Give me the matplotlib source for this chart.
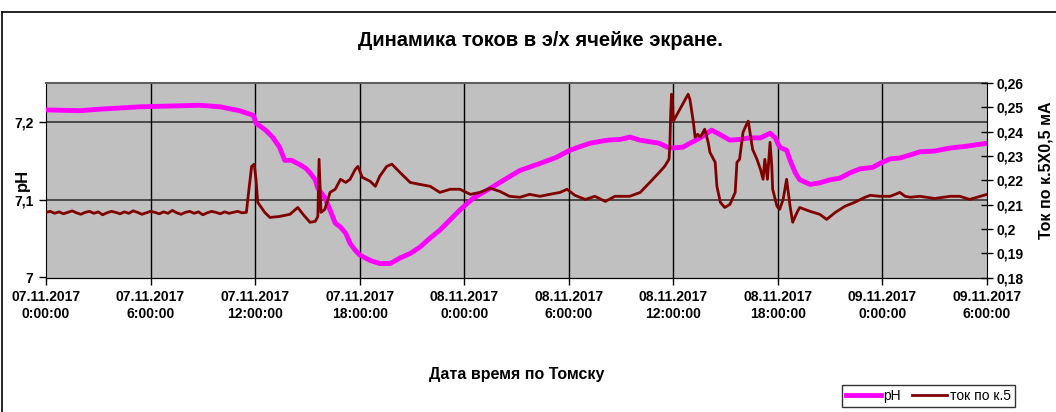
import matplotlib.pyplot as plt
from matplotlib.lines import Line2D
from matplotlib.ticker import FixedLocator, FuncFormatter, MultipleLocator

plt.rcParams['font.family'] = ['Liberation Sans', 'DejaVu Sans']

# ── DATA (time = hours since 07.11.2017 0:00, Tomsk) ─────────────
ph_hours = [0, 1.95, 3.1, 5.4, 7.1, 8.8, 10.0, 11.1, 11.9, 12.05, 12.6, 13.0,
            13.4, 13.7, 14.1, 14.6, 14.9, 15.15, 15.45, 15.6, 16.0, 16.3, 16.6,
            16.9, 17.2, 17.45, 17.75, 18.0, 18.6, 19.15, 19.75, 20.3, 20.9,
            21.45, 22.05, 22.6, 23.75, 24.5, 25.5, 26.45, 27.2, 28.35, 29.3,
            30.05, 31.2, 32.2, 32.95, 33.5, 34.1, 34.65, 35.2, 35.65, 36.0,
            36.55, 36.95, 37.55, 38.2, 38.7, 39.25, 39.8, 40.4, 41.0, 41.55,
            41.85, 42.1, 42.5, 42.7, 43.0, 43.25, 43.85, 44.4, 45.0, 45.55,
            46.15, 46.7, 47.45, 47.85, 48.45, 49.0, 49.6, 50.15, 51.0, 51.9,
            52.75, 54.0]
ph_values = [7.216, 7.215, 7.217, 7.220, 7.221, 7.222, 7.220, 7.215, 7.209,
             7.199, 7.190, 7.181, 7.168, 7.151, 7.151, 7.145, 7.141, 7.135,
             7.126, 7.115, 7.103, 7.087, 7.070, 7.065, 7.057, 7.044, 7.035,
             7.029, 7.022, 7.018, 7.018, 7.025, 7.031, 7.039, 7.051, 7.061,
             7.087, 7.102, 7.115, 7.128, 7.138, 7.147, 7.155, 7.164, 7.173,
             7.177, 7.178, 7.181, 7.177, 7.175, 7.173, 7.168, 7.167, 7.168,
             7.173, 7.180, 7.190, 7.184, 7.177, 7.178, 7.180, 7.180, 7.186,
             7.180, 7.168, 7.164, 7.151, 7.135, 7.126, 7.120, 7.122, 7.126,
             7.128, 7.135, 7.140, 7.142, 7.147, 7.153, 7.154, 7.158, 7.162,
             7.163, 7.167, 7.169, 7.173]

cur_hours = [0, 0.25, 0.5, 0.75, 1.0, 1.25, 1.5, 1.75, 2.0, 2.25, 2.5, 2.75,
             3.0, 3.25, 3.5, 3.75, 4.0, 4.25, 4.5, 4.75, 5.0, 5.25, 5.5, 5.75,
             6.0, 6.25, 6.5, 6.75, 7.0, 7.25, 7.5, 7.75, 8.0, 8.25, 8.5, 8.75,
             9.0, 9.25, 9.5, 9.75, 10.0, 10.25, 10.5, 10.75, 11.0, 11.25, 11.5,
             11.6, 11.8, 11.95, 12.05, 12.15, 12.55, 12.85, 13.4, 14.0, 14.45,
             14.75, 15.15, 15.45, 15.6, 15.67, 15.78, 16.0, 16.3, 16.6, 16.9,
             17.2, 17.45, 17.75, 17.9, 18.15, 18.6, 18.9, 19.15, 19.55, 19.85,
             20.3, 20.9, 21.45, 22.05, 22.6, 23.2, 23.75, 24.35, 24.9, 25.5,
             26.05, 26.6, 27.2, 27.75, 28.35, 28.9, 29.5, 29.9, 30.35, 30.95,
             31.5, 32.1, 32.65, 33.5, 34.1, 34.65, 35.2, 35.5, 35.75, 35.8,
             35.85, 35.9, 35.95, 36.0, 36.85, 36.95, 37.15, 37.25, 37.4, 37.55,
             37.8, 38.0, 38.1, 38.4, 38.5, 38.7, 38.95, 39.25, 39.55, 39.65,
             39.8, 40.0, 40.15, 40.3, 40.4, 40.55, 40.8, 41.0, 41.15, 41.25,
             41.4, 41.55, 41.65, 41.7, 41.95, 42.1, 42.3, 42.5, 42.7, 42.85,
             43.1, 43.25, 43.55, 43.85, 44.4, 44.8, 45.3, 45.85, 46.4, 47.0,
             47.3, 47.85, 48.45, 49.0, 49.3, 49.6, 50.15, 51.0, 51.9, 52.45,
             53.0, 54.0]
cur_values = [0.2068, 0.2072, 0.2064, 0.2070, 0.2062, 0.2068, 0.2074, 0.2066,
              0.2060, 0.2068, 0.2072, 0.2064, 0.2070, 0.2058, 0.2066, 0.2072,
              0.2068, 0.2062, 0.2070, 0.2064, 0.2074, 0.2068, 0.2060, 0.2066,
              0.2072, 0.2068, 0.2062, 0.2070, 0.2064, 0.2076, 0.2066, 0.2060,
              0.2068, 0.2072, 0.2064, 0.2070, 0.2058, 0.2066, 0.2072, 0.2068,
              0.2062, 0.2070, 0.2064, 0.2068, 0.2072, 0.2066, 0.2068,
              0.2134, 0.2257, 0.2266, 0.2204, 0.2109, 0.2068, 0.2047, 0.2051,
              0.2060, 0.2088, 0.2060, 0.2027, 0.2031, 0.2051, 0.2286, 0.2068,
              0.2080, 0.2150, 0.2163, 0.2204, 0.2191, 0.2204, 0.2245, 0.2257,
              0.2212, 0.2196, 0.2175, 0.2216, 0.2257, 0.2266, 0.2233, 0.2191,
              0.2183, 0.2175, 0.2150, 0.2163, 0.2163, 0.2142, 0.2150, 0.2167,
              0.2154, 0.2134, 0.2130, 0.2142, 0.2134, 0.2142, 0.2150, 0.2163,
              0.2138, 0.2121, 0.2134, 0.2113, 0.2134, 0.2134, 0.2150, 0.2191,
              0.2233, 0.2257, 0.2286, 0.2340, 0.2480, 0.2554, 0.2533, 0.2443,
              0.2554, 0.2533, 0.2439, 0.2377, 0.2389, 0.2377, 0.2410, 0.2356,
              0.2315, 0.2274, 0.2175, 0.2109, 0.2088, 0.2101, 0.2150, 0.2274,
              0.2286, 0.2397, 0.2422, 0.2443, 0.2397, 0.2327, 0.2286, 0.2245,
              0.2204, 0.2286, 0.2204, 0.2356, 0.2257, 0.2163, 0.2093, 0.2080,
              0.2121, 0.2204, 0.2093, 0.2027, 0.2068, 0.2088, 0.2080, 0.2072,
              0.2060, 0.2039, 0.2068, 0.2093, 0.2109, 0.2130, 0.2138, 0.2134,
              0.2134, 0.2150, 0.2134, 0.2130, 0.2134, 0.2125, 0.2134, 0.2134,
              0.2121, 0.2142]

tick_hours = [0, 6, 12, 18, 24, 30, 36, 42, 48, 54]
tick_labels = ['07.11.2017\n0:00:00', '07.11.2017\n6:00:00',
               '07.11.2017\n12:00:00', '07.11.2017\n18:00:00',
               '08.11.2017\n0:00:00', '08.11.2017\n6:00:00',
               '08.11.2017\n12:00:00', '08.11.2017\n18:00:00',
               '09.11.2017\n0:00:00', '09.11.2017\n6:00:00']


def comma(v, pos):
    return f"{round(v, 4):g}".replace('.', ',')


# ── FIGURE ─────────────────────────────────────────
W, H = 1056, 412
fig = plt.figure(figsize=(W / 100, H / 100), dpi=100)
ax = fig.add_axes([46 / W, 1 - 277.5 / H, (987 - 46) / W, (277.5 - 83) / H])
ax.set_facecolor('#C0C0C0')

ax.plot(ph_hours, ph_values, color='#FF00FF', lw=3.5, solid_joinstyle='round',
        label='pH', zorder=3)
ax.set_xlim(0, 54)
ax.set_ylim(7.0, 7.2507)
ax.yaxis.set_major_locator(FixedLocator([7.0, 7.1, 7.2]))
ax.yaxis.set_major_formatter(FuncFormatter(comma))
ax.xaxis.set_major_locator(FixedLocator(tick_hours))
ax.set_xticklabels(tick_labels, fontsize=10, fontweight='bold', linespacing=1.25)
ax.tick_params(axis='x', direction='out', length=5, width=1, pad=4)
ax.tick_params(axis='y', direction='out', length=5, width=1, pad=4,
               labelsize=10)
for lbl in ax.get_yticklabels():
    lbl.set_fontweight('bold')
for y in (7.1, 7.2):
    ax.axhline(y, color='#404040', lw=1.3, zorder=1)
for h in tick_hours[1:-1]:
    ax.axvline(h, color='black', lw=1.0, zorder=1)
ax.spines['top'].set_color('#606060')
ax.spines['top'].set_linewidth(1.5)
ax.spines['right'].set_visible(False)

ax2 = ax.twinx()
ax2.plot(cur_hours, cur_values, color='#800000', lw=2.0, label='ток по к.5')
ax2.set_ylim(0.18, 0.26)
ax2.yaxis.set_major_locator(MultipleLocator(0.01))
ax2.yaxis.set_major_formatter(FuncFormatter(comma))
ax2.tick_params(axis='y', direction='inout', length=8, width=1, pad=3,
                labelsize=10)
for lbl in ax2.get_yticklabels():
    lbl.set_fontweight('bold')
ax2.spines['top'].set_visible(False)
ax2.spines['left'].set_visible(False)

fig.text(540 / W, 1 - 40 / H, 'Динамика токов в э/х ячейке экране.',
         ha='center', va='center', fontsize=14.5, fontweight='bold')
fig.text(22 / W, 1 - 180 / H, 'pH', ha='center', va='center', rotation=90,
         fontsize=12, fontweight='bold')
fig.text(1046 / W, 1 - 170 / H, 'Ток по к.5Х0,5 мА', ha='center',
         va='center', rotation=90, fontsize=11.5, fontweight='bold')
fig.text(517 / W, 1 - 375 / H, 'Дата время по Томску', ha='center',
         va='center', fontsize=11.5, fontweight='bold')

# chart area border
fig.add_artist(Line2D([2 / W, 2 / W], [0, 1 - 12 / H], color='black', lw=1.2,
                      transform=fig.transFigure))
fig.add_artist(Line2D([2 / W, 1], [1 - 12 / H, 1 - 12 / H], color='black',
                      lw=1.2, transform=fig.transFigure))

handles = ax.get_lines()[:1] + ax2.get_lines()[:1]
leg = fig.legend(handles, ['pH', 'ток по к.5'], loc='lower left',
                 bbox_to_anchor=(842 / W, 1 - 407 / H), ncol=2, fontsize=10,
                 frameon=True, fancybox=False, shadow=False, handlelength=2.5,
                 handletextpad=0.2, columnspacing=0.8, borderpad=0.3,
                 borderaxespad=0)
leg.get_frame().set_edgecolor('black')
leg.get_frame().set_linewidth(1.0)

fig.savefig('out.png', dpi=100)
